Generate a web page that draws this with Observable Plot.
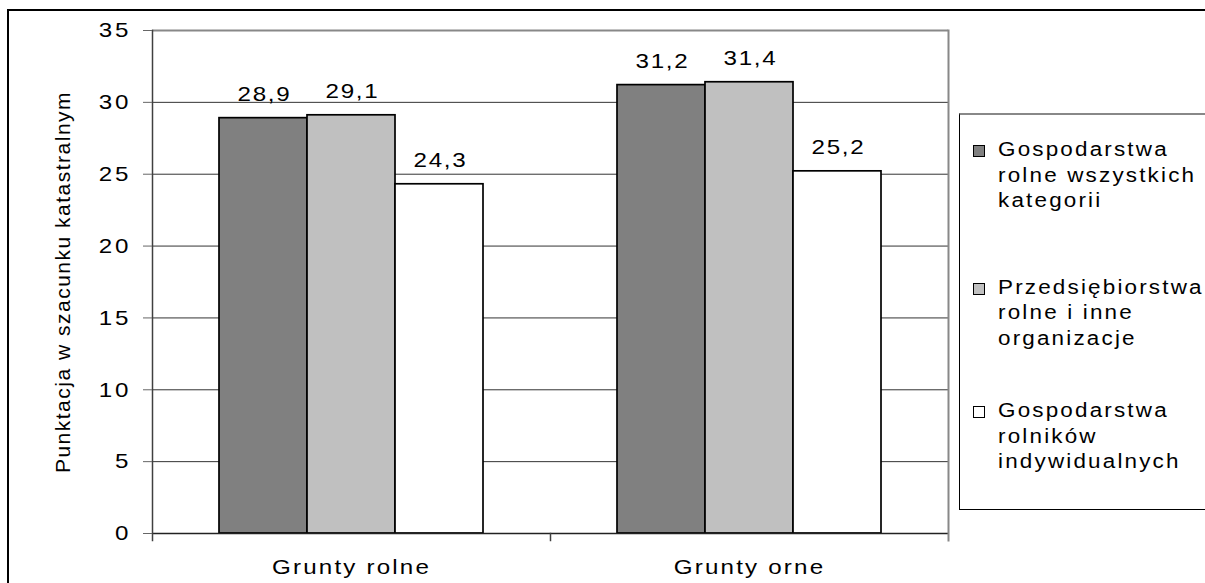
<!DOCTYPE html>
<html><head><meta charset="utf-8">
<script src="https://cdn.jsdelivr.net/npm/d3@7"></script>
<script src="https://cdn.jsdelivr.net/npm/@observablehq/plot@0.6"></script>
<style>
body{margin:0;background:#fff;}
#wrap{position:relative;width:1205px;height:583px;overflow:hidden;font-family:"Liberation Sans",Arial,sans-serif;}
#outer{position:absolute;left:7px;top:9px;width:1300px;height:700px;border:2px solid #000;box-sizing:border-box;}
#chart{position:absolute;left:0;top:0;}
#chart svg text{letter-spacing:1.5px;}
#chart svg g[aria-label="y-axis tick label"] text{letter-spacing:2.6px;}
#chart svg g[aria-label="fx-axis tick label"] text{letter-spacing:1.9px;}
#chart svg g[aria-label="y-axis label"] text{letter-spacing:1.5px;}
#legend{position:absolute;left:959px;top:113px;width:300px;height:397px;box-sizing:border-box;border:1px solid #000;border-top:2px solid #888;padding-top:22px;font-size:19.5px;letter-spacing:1.9px;color:#000;}
.item{position:relative;padding-left:38px;line-height:25.5px;white-space:nowrap;}
.item span{display:inline-block;transform:scaleX(1.15);transform-origin:left center;}
.item:nth-child(1){margin-bottom:61px;}
.item:nth-child(2){margin-bottom:47px;}
.sw{position:absolute;left:13px;top:8px;width:10px;height:10px;border:1px solid #000;}
</style></head><body>
<div id="wrap"><div id="outer"></div><div id="chart"></div><div id="legend"></div></div>
<script>
// ---- data ----
const categories = ["Grunty rolne", "Grunty orne"];
const series = [
  "Gospodarstwa rolne wszystkich kategorii",
  "Przedsiębiorstwa rolne i inne organizacje",
  "Gospodarstwa rolników indywidualnych"
];
const legendLines = [
  ["Gospodarstwa", "rolne wszystkich", "kategorii"],
  ["Przedsiębiorstwa", "rolne i inne", "organizacje"],
  ["Gospodarstwa", "rolników", "indywidualnych"]
];
const valuesGruntyRolne = [28.9, 29.1, 24.3];
const valuesGruntyOrne = [31.2, 31.4, 25.2];
const yTicks = [0, 5, 10, 15, 20, 25, 30, 35];
const yLabel = "Punktacja w szacunku katastralnym";

// ---- styling ----
const seriesColors = ["#808080", "#c0c0c0", "#ffffff"];
const W = 1205, H = 583, mL = 152, mT = 30, mB = 50, mR = 257;
const plotH = H - mT - mB;
const stretch = 1.15;

const table = [];
[valuesGruntyRolne, valuesGruntyOrne].forEach((vals, ci) => {
  vals.forEach((v, si) => table.push({category: categories[ci], series: series[si], value: v}));
});
const fmt = v => v.toFixed(1).replace(".", ",");

const chart = Plot.plot({
  width: W, height: H,
  marginLeft: mL, marginTop: mT, marginBottom: mB, marginRight: mR,
  style: {fontFamily: '"Liberation Sans", Arial, sans-serif', fontSize: "21px", color: "#000", background: "transparent", overflow: "visible"},
  fx: {domain: categories, paddingInner: 0, paddingOuter: 0, axis: null, label: null},
  x: {domain: series, paddingInner: 0, paddingOuter: 0.744, axis: null},
  y: {domain: [yTicks[0], yTicks[yTicks.length - 1]], axis: null},
  color: {domain: series, range: seriesColors},
  marks: [
    Plot.ruleY(yTicks.slice(1, -1), {stroke: "#333", strokeWidth: 1}),
    Plot.ruleY([yTicks[yTicks.length - 1]], {stroke: "#888", strokeWidth: 2}),
    Plot.barY(table, {fx: "category", x: "series", y: "value", fill: "series", stroke: "#000", strokeWidth: 1.7}),
    Plot.text(table, {fx: "category", x: "series", y: "value", text: d => fmt(d.value), dy: -24, dx: 1, fontSize: 21, fill: "#000"}),
    Plot.ruleY([0], {stroke: "#222", strokeWidth: 1.6}),
    Plot.frame({anchor: "left", facetAnchor: "left", insetBottom: -7, stroke: "#404040", strokeWidth: 1.5}),
    Plot.frame({anchor: "right", facetAnchor: "right", insetBottom: -7, stroke: "#888", strokeWidth: 2}),
    Plot.frame({anchor: "left", facetAnchor: "right", insetTop: plotH, insetBottom: -7, stroke: "#404040", strokeWidth: 1.5}),
    Plot.axisY({ticks: yTicks, tickSize: 9, tickPadding: 12, tickFormat: d => String(d), stroke: "#666",
      label: yLabel, labelAnchor: "center", labelOffset: 97, labelArrow: "none", fontSize: 21}),
    Plot.axisFx({anchor: "bottom", tickSize: 0, tickPadding: 26, label: null, fontSize: 21})
  ]
});
document.getElementById("chart").appendChild(chart);

// widen glyphs like the original rendering (except the rotated axis title)
d3.select(chart).selectAll("text").each(function() {
  const g = this.closest("g[aria-label]");
  if (g && g.getAttribute("aria-label") === "y-axis label") return;
  const len = this.getComputedTextLength();
  if (len > 0) {
    this.setAttribute("textLength", (len * stretch).toFixed(2));
    this.setAttribute("lengthAdjust", "spacingAndGlyphs");
  }
});

// legend
const lg = d3.select("#legend");
series.forEach((s, i) => {
  const it = lg.append("div").attr("class", "item");
  it.append("div").attr("class", "sw").style("background", seriesColors[i]);
  legendLines[i].forEach(l => it.append("div").append("span").text(l));
});
</script>
</body></html>
